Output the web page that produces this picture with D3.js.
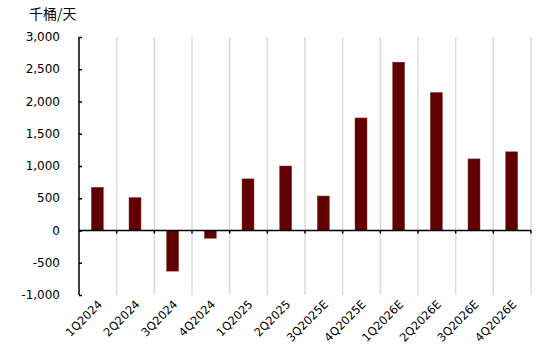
<!DOCTYPE html>
<html><head><meta charset="utf-8">
<script src="https://cdn.jsdelivr.net/npm/d3@7"></script>
<style>body{margin:0;background:#fff}svg{display:block}</style>
</head><body>
<script>
const categories = ["1Q2024","2Q2024","3Q2024","4Q2024","1Q2025","2Q2025","3Q2025E","4Q2025E","1Q2026E","2Q2026E","3Q2026E","4Q2026E"];
const values = [670, 510, -630, -120, 800, 1000, 535, 1745, 2610, 2140, 1110, 1220];
const yTicks = [-1000, -500, 0, 500, 1000, 1500, 2000, 2500, 3000];
const unitLabel = "千桶/天";

const W = 550, H = 355;
const svg = d3.select("body").append("svg").attr("width", W).attr("height", H);
const font = "'DejaVu Sans', 'Noto Sans CJK SC', sans-serif";

const x = d3.scaleBand().domain(categories).range([79, 531]);
const y = d3.scaleLinear().domain([-1000, 3000]).range([295, 37]);

// vertical gridlines at band boundaries
const bounds = categories.map((c) => x(c) + x.bandwidth());
svg.append("g").selectAll("line").data(bounds).join("line")
  .attr("x1", d => d).attr("x2", d => d)
  .attr("y1", y(3000)).attr("y2", y(-1000))
  .attr("stroke", "#dcdcdc").attr("stroke-width", 1.5);

// bars
const bw = 12;
svg.append("g").selectAll("rect").data(values).join("rect")
  .attr("x", (d, i) => x(categories[i]) + x.bandwidth() / 2 - bw / 2 - 0.5)
  .attr("width", bw)
  .attr("y", d => y(Math.max(0, d)))
  .attr("height", d => Math.abs(y(d) - y(0)))
  .attr("fill", "#600000")
  .attr("stroke", "#8a3a3a").attr("stroke-width", 0.5);

// y axis
const yAxis = d3.axisRight(y).tickValues(yTicks).tickSize(3).tickFormat("");
const gy = svg.append("g").attr("transform", "translate(79,0)").call(yAxis);
gy.select(".domain").attr("stroke", "#000").attr("stroke-width", 1.5).attr("d", `M0,${y(3000)}V${y(-1000)}`);
gy.selectAll(".tick line").attr("stroke", "#000").attr("stroke-width", 1.5);

// y tick labels
svg.append("g").selectAll("text").data(yTicks).join("text")
  .attr("x", 60).attr("y", d => y(d)).attr("dy", "0.35em")
  .attr("text-anchor", "end")
  .style("font-family", font).style("font-size", "12px").attr("fill", "#000")
  .text(d => d3.format(",")(d).replace("−", "-"));

// zero line (x axis)
svg.append("line").attr("x1", 79).attr("x2", 531).attr("y1", y(0)).attr("y2", y(0))
  .attr("stroke", "#000").attr("stroke-width", 1.5);
svg.append("g").selectAll("line").data(bounds).join("line")
  .attr("x1", d => d).attr("x2", d => d).attr("y1", y(0)).attr("y2", y(0) + 3)
  .attr("stroke", "#000").attr("stroke-width", 1.5);

// x labels
svg.append("g").selectAll("text").data(categories).join("text")
  .attr("transform", d => `translate(${x(d) + x.bandwidth() / 2 + 5},${305}) rotate(-45)`)
  .attr("text-anchor", "end")
  .style("font-family", font).style("font-size", "11.5px").attr("fill", "#000")
  .text(d => d);

// unit label
svg.append("text").attr("x", 29).attr("y", 19)
  .style("font-family", "'Noto Sans CJK SC', sans-serif").style("font-size", "14px").attr("fill", "#000")
  .text(unitLabel);
</script>
</body></html>
